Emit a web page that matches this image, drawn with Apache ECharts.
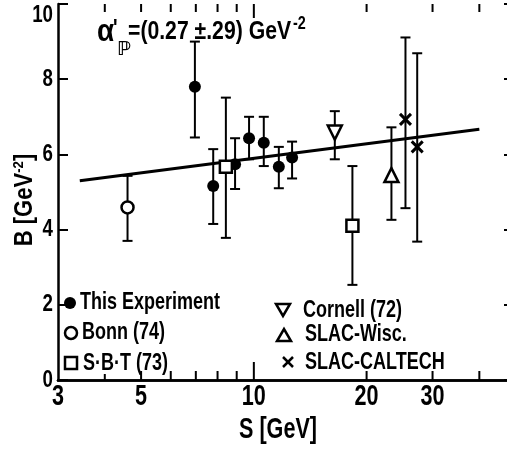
<!DOCTYPE html>
<html><head><meta charset="utf-8">
<script src="https://cdn.jsdelivr.net/npm/echarts@6/dist/echarts.min.js"></script>
<style>html,body{margin:0;padding:0;background:#fff}#c{width:507px;height:449px}</style>
</head><body><div id="c"></div><script>
const F = '"Liberation Sans", Arial, sans-serif';

// S [GeV], B [GeV^-2], lower and upper error limits
const thisS  = [6.96, 7.79, 8.91, 9.71, 10.63, 11.66, 12.65];
const thisB  = [7.80, 5.16, 5.74, 6.43, 6.31, 5.67, 5.92];
const thisLo = [6.45, 4.15, 5.08, 5.87, 5.69, 5.10, 5.36];
const thisHi = [9.00, 6.14, 6.43, 7.00, 7.00, 6.20, 6.34];
const bonnS = [4.60], bonnB = [4.59], bonnLo = [3.70], bonnHi = [5.43];
const sbtS = [8.42, 18.33], sbtB = [5.67, 4.10], sbtLo = [3.78, 2.53], sbtHi = [7.51, 5.69];
const cornS = [16.45], cornB = [6.58], cornLo = [5.87], cornHi = [7.15];
const wiscS = [23.3], wiscB = [5.45], wiscLo = [4.26], wiscHi = [6.72];
const calS = [25.4, 27.3], calB = [6.93, 6.20], calLo = [4.57, 3.68], calHi = [9.11, 8.69];
const fitS = [3.43, 40], fitB = [5.30, 6.67];

const xTickLabels = [3, 5, 10, 20, 30];
const yTickLabels = [0, 2, 4, 6, 8, 10];
const xShortTicks = [4];
const xTicks = [5, 6, 7, 8, 9, 20, 30, 40];
const xLongTicks = [10];
const names = ['This Experiment', 'Bonn (74)', 'S·B·T (73)', 'Cornell (72)', 'SLAC-Wisc.', 'SLAC-CALTECH'];

const zip = (a, b) => a.map((v, i) => [v, b[i]]);
const errs = [];
[[thisS, thisLo, thisHi], [bonnS, bonnLo, bonnHi], [sbtS, sbtLo, sbtHi], [cornS, cornLo, cornHi],
 [wiscS, wiscLo, wiscHi], [calS, calLo, calHi]].forEach(([s, lo, hi]) => s.forEach((v, i) => errs.push([v, lo[i], hi[i]])));

const ticks = [];
xShortTicks.forEach(v => ticks.push([v, 0, 6, 8]));
xTicks.forEach(v => ticks.push([v, 0, 9, 8]));
xLongTicks.forEach(v => ticks.push([v, 0, 18, 14]));

const chart = echarts.init(document.getElementById('c'), null, {renderer: 'canvas'});
const mk = (name, data, symbol, size, fill, bw, extra) => Object.assign({
  name, type: 'scatter', data, symbol, symbolSize: size, z: 5,
  itemStyle: {color: fill, borderColor: '#000', borderWidth: bw, opacity: 1}
}, extra || {});
const txt = (x, y, text, size, sx, extra) => Object.assign({
  type: 'text', x, y, scaleX: sx, silent: true,
  style: {text, font: 'bold ' + size + 'px ' + F, fill: '#000', align: 'left', verticalAlign: 'middle',
          textAlign: 'left', textVerticalAlign: 'middle'}
}, extra || {});
const S = {stroke: '#000', lineWidth: 2.5};

chart.setOption({
  animation: false,
  grid: {left: 58, right: -2, top: 4, bottom: 69, containLabel: false, outerBoundsMode: 'none'},
  xAxis: [{
    type: 'log', logBase: 10, min: 3, max: 48,
    axisLine: {show: true, lineStyle: {color: '#000', width: 2.5}},
    axisTick: {show: false}, axisLabel: {show: false}, splitLine: {show: false}
  }, {
    type: 'log', logBase: 10, min: 3, max: 48, position: 'top',
    axisLine: {show: true, lineStyle: {color: '#000', width: 2.5}},
    axisTick: {show: false}, axisLabel: {show: false}, splitLine: {show: false}
  }],
  yAxis: [{
    type: 'value', min: 0, max: 10, interval: 2,
    axisLine: {show: true, lineStyle: {color: '#000', width: 2.5}},
    axisTick: {show: true, inside: true, length: 10, lineStyle: {width: 2, color: '#000'}},
    axisLabel: {show: false}, splitLine: {show: false}
  }, {
    type: 'value', min: 0, max: 10, interval: 2, position: 'right',
    axisLine: {show: false}, axisLabel: {show: false}, splitLine: {show: false},
    axisTick: {show: true, inside: true, length: 5, lineStyle: {width: 2, color: '#000'}}
  }],
  graphic: [
    // annotation
    txt(97, 32, 'α', 31, 0.9),
    txt(113, 29, "'", 24, 0.8),
    {type: 'text', x: 117, y: 50, silent: true, style: {text: 'ℙ', font: 'bold 19px "DejaVu Sans", sans-serif', fill: '#000', verticalAlign: 'middle', textVerticalAlign: 'middle'}},
    txt(128, 32, '=(0.27 ±.29) GeV', 26.5, 0.8),
    txt(293, 24, '-2', 18, 0.8),
    // axis titles
    txt(278, 430, 'S [GeV]', 30, 0.72, {style: {text: 'S [GeV]', font: 'bold 30px ' + F, fill: '#000', align: 'center', verticalAlign: 'middle', textAlign: 'center', textVerticalAlign: 'middle'}}),
    {type: 'text', x: 25, y: 200, rotation: Math.PI / 2, scaleX: 0.88, silent: true,
     style: {text: '{a|B [GeV}{s|-2}{a|]}', align: 'center', verticalAlign: 'middle', textAlign: 'center', textVerticalAlign: 'middle',
       rich: {a: {font: 'bold 25px ' + F, fill: '#000', fontSize: 25, fontWeight: 'bold', fontFamily: F},
              s: {font: 'bold 15px ' + F, fill: '#000', fontSize: 15, fontWeight: 'bold', fontFamily: F, padding: [0, 0, 12, 0]}}}},
    // legend, column 1
    {type: 'circle', shape: {cx: 70, cy: 303, r: 6}, style: {fill: '#000'}, silent: true},
    txt(80, 302, names[0], 24, 0.75),
    {type: 'circle', shape: {cx: 71, cy: 333, r: 6}, style: {fill: '#fff', stroke: '#000', lineWidth: 2.5}, silent: true},
    txt(82, 332, names[1], 24, 0.75),
    {type: 'rect', shape: {x: 65, y: 357, width: 12, height: 12}, style: {fill: '#fff', stroke: '#000', lineWidth: 2.5}, silent: true},
    txt(83, 363, names[2], 24, 0.75),
    // legend, column 2
    {type: 'polygon', shape: {points: [[276, 304], [290, 304], [283, 316]]}, style: {fill: '#fff', stroke: '#000', lineWidth: 2.5}, silent: true},
    txt(303, 310, names[3], 24, 0.75),
    {type: 'polygon', shape: {points: [[277, 341], [291, 341], [284, 329]]}, style: {fill: '#fff', stroke: '#000', lineWidth: 2.5}, silent: true},
    txt(305, 334, names[4], 24, 0.75),
    {type: 'polyline', shape: {points: [[283, 357], [293, 367]]}, style: {stroke: '#000', lineWidth: 2.5, fill: null}, silent: true},
    {type: 'polyline', shape: {points: [[293, 357], [283, 367]]}, style: {stroke: '#000', lineWidth: 2.5, fill: null}, silent: true},
    txt(305, 362, names[5], 24, 0.75)
  ],
  series: [
    {type: 'line', data: zip(fitS, fitB), showSymbol: false, symbol: 'none', z: 2,
     lineStyle: {color: '#000', width: 3}, silent: true},
    {type: 'custom', data: errs, z: 3, clip: false, silent: true,
     renderItem: (p, api) => {
       const top = api.coord([api.value(0), api.value(2)]);
       const bot = api.coord([api.value(0), api.value(1)]);
       const st = {stroke: '#000', lineWidth: 2};
       return {type: 'group', children: [
         {type: 'line', shape: {x1: top[0], y1: top[1], x2: bot[0], y2: bot[1]}, style: st},
         {type: 'line', shape: {x1: top[0] - 5, y1: top[1], x2: top[0] + 5, y2: top[1]}, style: st},
         {type: 'line', shape: {x1: bot[0] - 5, y1: bot[1], x2: bot[0] + 5, y2: bot[1]}, style: st}
       ]};
     }},
    {type: 'custom', data: ticks, z: 3, clip: false, silent: true,
     renderItem: (p, api) => {
       const b = api.coord([api.value(0), 0]);
       const t = api.coord([api.value(0), 10]);
       const st = {stroke: '#000', lineWidth: 2};
       return {type: 'group', children: [
         {type: 'line', shape: {x1: b[0], y1: b[1], x2: b[0], y2: b[1] - api.value(2)}, style: st},
         {type: 'line', shape: {x1: t[0], y1: t[1], x2: t[0], y2: t[1] + api.value(3)}, style: st}
       ]};
     }},
    {type: 'custom', data: xTickLabels.map(v => [v, 0]), z: 3, clip: false, silent: true,
     renderItem: (p, api) => {
       const b = api.coord([api.value(0), 0]);
       return {type: 'text', x: b[0], y: b[1] + 17, scaleX: 0.72, style: {text: String(api.value(0)),
         font: 'bold 30px ' + F, fill: '#000', align: 'center', verticalAlign: 'middle',
         textAlign: 'center', textVerticalAlign: 'middle'}};
     }},
    {type: 'custom', data: yTickLabels.map(v => [3, v]), z: 3, clip: false, silent: true,
     renderItem: (p, api) => {
       const b = api.coord([3, api.value(1)]);
       return {type: 'text', x: b[0] - 5, y: Math.max(b[1], 15), scaleX: 0.78, style: {text: String(api.value(1)),
         font: 'bold 24px ' + F, fill: '#000', align: 'right', verticalAlign: 'middle',
         textAlign: 'right', textVerticalAlign: 'middle'}};
     }},
    mk(names[0], zip(thisS, thisB), 'circle', 12, '#000', 0),
    mk(names[1], zip(bonnS, bonnB), 'circle', 12, '#fff', 2.5),
    mk(names[2], zip(sbtS, sbtB), 'rect', 12, '#fff', 2.5),
    mk(names[3], zip(cornS, cornB), 'triangle', 14, '#fff', 2.5, {symbolRotate: 180}),
    mk(names[4], zip(wiscS, wiscB), 'triangle', 14, '#fff', 2.5),
    mk(names[5], zip(calS, calB), 'path://M0,0L10,10M10,0L0,10', 11, 'transparent', 3)
  ]
});
</script></body></html>
